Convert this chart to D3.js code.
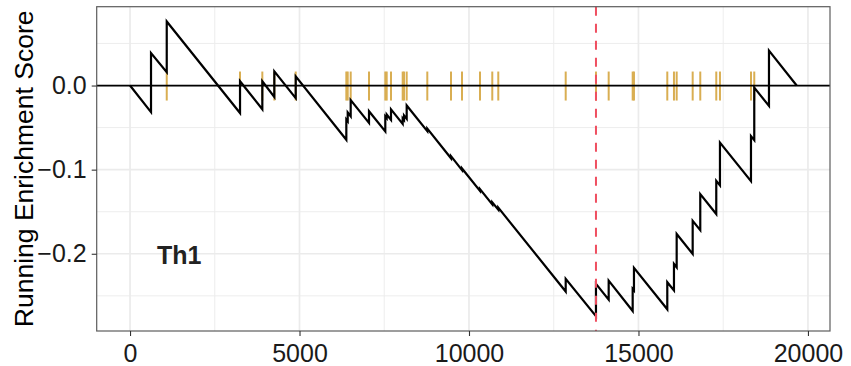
<!DOCTYPE html>
<html>
<head>
<meta charset="utf-8">
<script src="https://cdn.jsdelivr.net/npm/d3@7"></script>
<style>
  html, body { margin: 0; padding: 0; background: #fff; }
  svg { display: block; }
  text { font-family: "Liberation Sans", Arial, Helvetica, sans-serif; }
</style>
</head>
<body>
<svg id="chart" width="851" height="366"></svg>
<script>
// Gene-set hits along the ranked list, with the running enrichment score
// just before and just after each hit.
const hitRank = [619, 1083, 3245, 3903, 4257, 4888, 6381, 6422, 6510, 7050,
  7531, 7572, 7699, 8044, 8083, 8162, 8770, 9469, 9794, 10324,
  10687, 10864, 12853, 13746, 14121, 14829, 14867, 15850, 16047, 16127,
  16599, 16823, 17295, 17404, 18319, 18416, 18850];
const esBefore = [-0.0316, 0.0158, -0.0327, -0.0282, -0.0136, -0.0150, -0.0645, -0.0424, -0.0365, -0.0445,
  -0.0546, -0.0387, -0.0408, -0.0457, -0.0410, -0.0396, -0.0542, -0.0865, -0.1006, -0.1252,
  -0.1414, -0.1477, -0.2449, -0.2743, -0.2546, -0.2680, -0.2436, -0.2660, -0.2436, -0.2161,
  -0.2002, -0.1720, -0.1528, -0.1188, -0.1137, -0.0649, -0.0242];
const esAfter = [0.0387, 0.0762, 0.0051, 0.0051, 0.0169, 0.0110, -0.0403, -0.0320, -0.0174, -0.0305,
  -0.0367, -0.0344, -0.0284, -0.0391, -0.0355, -0.0237, -0.0513, -0.0839, -0.0986, -0.1232,
  -0.1389, -0.1451, -0.2299, -0.2358, -0.2319, -0.2417, -0.2168, -0.2338, -0.2121, -0.1765,
  -0.1608, -0.1291, -0.1134, -0.0679, -0.0601, -0.0024, 0.0415];
const listLength = 19667;     // last position of the ranked list
const peakRank = 13746;       // position of the maximum deviation
const setName = "Th1";
const xTicks = [0, 5000, 10000, 15000, 20000];
const xMinor = [2500, 7500, 12500, 17500];
const yTicks = [-0.2, -0.1, 0.0];
const yMinor = [-0.25, -0.15, -0.05, 0.05];

// Running score path: start at 0, step up at each hit, end back at 0.
const path = [[0, 0]];
hitRank.forEach((g, i) => { path.push([g, esBefore[i]]); path.push([g, esAfter[i]]); });
path.push([listLength, 0]);

const panel = { left: 96.7, right: 830, top: 6.7, bottom: 331 };

function expand(lo, hi, f) { const r = hi - lo; return [lo - f * r, hi + f * r]; }
const allY = path.map(d => d[1]);
const x = d3.scaleLinear().domain(expand(0, listLength, 0.05)).range([panel.left, panel.right]);
const y = d3.scaleLinear().domain(expand(d3.min(allY), d3.max(allY), 0.05)).range([panel.bottom, panel.top]);

const svg = d3.select("#chart");

// Grid
const grid = svg.append("g");
grid.selectAll(".vmin").data(xMinor).join("line")
  .attr("x1", d => x(d)).attr("x2", d => x(d)).attr("y1", panel.top).attr("y2", panel.bottom)
  .attr("stroke", "#ebebeb").attr("stroke-width", 0.9);
grid.selectAll(".hmin").data(yMinor).join("line")
  .attr("y1", d => y(d)).attr("y2", d => y(d)).attr("x1", panel.left).attr("x2", panel.right)
  .attr("stroke", "#ebebeb").attr("stroke-width", 0.9);
grid.selectAll(".vmaj").data(xTicks).join("line")
  .attr("x1", d => x(d)).attr("x2", d => x(d)).attr("y1", panel.top).attr("y2", panel.bottom)
  .attr("stroke", "#ebebeb").attr("stroke-width", 1.7);
grid.selectAll(".hmaj").data(yTicks).join("line")
  .attr("y1", d => y(d)).attr("y2", d => y(d)).attr("x1", panel.left).attr("x2", panel.right)
  .attr("stroke", "#ebebeb").attr("stroke-width", 1.7);

// Hit ticks on the zero line
svg.append("g").selectAll("line").data(hitRank).join("line")
  .attr("x1", d => x(d)).attr("x2", d => x(d))
  .attr("y1", y(0) - 14).attr("y2", y(0) + 15)
  .attr("stroke", "#d9ae52").attr("stroke-width", 2);

// Zero line
svg.append("line")
  .attr("x1", panel.left).attr("x2", panel.right).attr("y1", y(0)).attr("y2", y(0))
  .attr("stroke", "#000").attr("stroke-width", 1.8);

// Running enrichment score
svg.append("path").datum(path)
  .attr("d", d3.line().x(d => x(d[0])).y(d => y(d[1])))
  .attr("fill", "none").attr("stroke", "#000").attr("stroke-width", 2.2)
  .attr("stroke-linejoin", "miter");

// Position of the maximum deviation
svg.append("line")
  .attr("x1", x(peakRank)).attr("x2", x(peakRank)).attr("y1", panel.top).attr("y2", panel.bottom)
  .attr("stroke", "#ef4f60").attr("stroke-width", 2).attr("stroke-dasharray", "9,8");

// Panel border
svg.append("rect")
  .attr("x", panel.left).attr("y", panel.top)
  .attr("width", panel.right - panel.left).attr("height", panel.bottom - panel.top)
  .attr("fill", "none").attr("stroke", "#5c5c5c").attr("stroke-width", 1.2);

// Axes
const xAxis = svg.append("g").attr("transform", `translate(0,${panel.bottom})`)
  .call(d3.axisBottom(x).tickValues(xTicks).tickFormat(d3.format("d")).tickSize(5).tickPadding(8));
const yAxis = svg.append("g").attr("transform", `translate(${panel.left},0)`)
  .call(d3.axisLeft(y).tickValues(yTicks).tickFormat(d3.format(".1f")).tickSize(5).tickPadding(5));
[xAxis, yAxis].forEach(a => {
  a.select(".domain").remove();
  a.selectAll(".tick line").attr("stroke", "#333").attr("stroke-width", 1.1);
  a.selectAll(".tick text").attr("fill", "#1a1a1a").style("font-size", "25px")
    .style("font-family", '"Liberation Sans", Arial, Helvetica, sans-serif');
});

// Axis title
svg.append("text")
  .attr("transform", `translate(33,${(panel.top + panel.bottom) / 2}) rotate(-90)`)
  .attr("text-anchor", "middle")
  .style("font-size", "26.5px").attr("fill", "#000")
  .text("Running Enrichment Score");

// Gene-set label
svg.append("text")
  .attr("x", 157).attr("y", 264)
  .style("font-size", "25px").style("font-weight", "bold").attr("fill", "#222")
  .text(setName);
</script>
</body>
</html>
